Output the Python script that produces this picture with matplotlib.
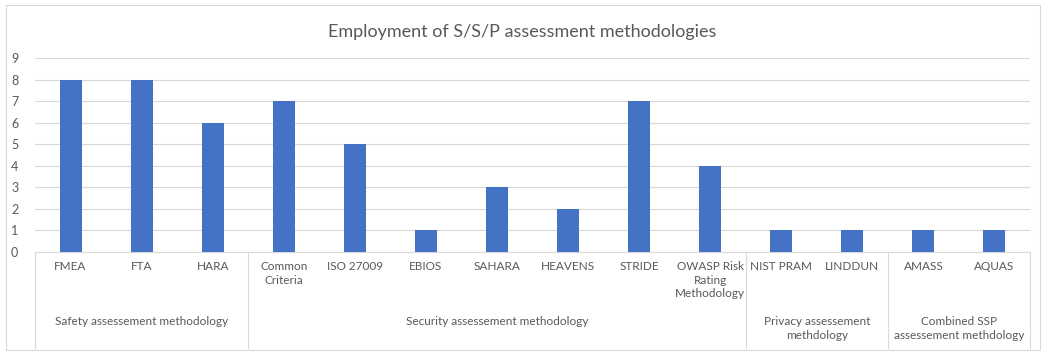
import matplotlib
matplotlib.use("Agg")
import matplotlib.pyplot as plt
from matplotlib import transforms
from matplotlib.patches import Rectangle

plt.rcParams['font.family'] = ['Lato', 'DejaVu Sans']

methods = ["FMEA", "FTA", "HARA", "Common\nCriteria", "ISO 27009", "EBIOS", "SAHARA",
           "HEAVENS", "STRIDE", "OWASP Risk\nRating\nMethodology", "NIST PRAM", "LINDDUN",
           "AMASS", "AQUAS"]
counts = [8, 8, 6, 7, 5, 1, 3, 2, 7, 4, 1, 1, 1, 1]
groups = ["Safety assessement methodology", "Security assessement methodology",
          "Privacy assessement\nmethdology", "Combined SSP\nassessement methdology"]
group_sizes = [3, 7, 2, 2]

txt = "#595959"
fig = plt.figure(figsize=(10.44, 3.54), dpi=100)
fig.patches.append(Rectangle((0.006, 0.012), 0.99, 0.975, transform=fig.transFigure,
                             fill=False, edgecolor="#D9D9D9", linewidth=0.8))
ax = fig.add_axes([35 / 1044, 102 / 354, 995 / 1044, 194 / 354])

x = list(range(len(methods)))
ax.bar(x, counts, width=0.31, color="#4472C4", zorder=3)
ax.set_xlim(-0.5, len(methods) - 0.5)
ax.set_ylim(0, 9)
ax.set_yticks(range(10))
ax.tick_params(axis="y", length=0, labelsize=9, labelcolor=txt, pad=12)
ax.set_xticks([])
ax.grid(axis="y", color="#D9D9D9", linewidth=0.8, zorder=0)
for s in ["top", "right", "left"]:
    ax.spines[s].set_visible(False)
ax.spines["bottom"].set_color("#D9D9D9")

fig.text(0.5, (354 - 32) / 354, "Employment of S/S/P assessment methodologies",
         ha="center", va="center", fontsize=13, color=txt)

tr = transforms.blended_transform_factory(ax.transData, fig.transFigure)
for i, m in enumerate(methods):
    ax.text(i, (354 - 261) / 354, m, transform=tr, ha="center", va="top",
            fontsize=8.5, color=txt, linespacing=1.3)

edges = [-0.5]
for n in group_sizes:
    edges.append(edges[-1] + n)
for e in edges:
    ax.plot([e, e], [(354 - 252) / 354, (354 - 348) / 354], transform=tr,
            color="#D9D9D9", linewidth=0.8, clip_on=False)
for g, a, b in zip(groups, edges[:-1], edges[1:]):
    ax.text((a + b) / 2, (354 - 316) / 354, g, transform=tr, ha="center", va="top",
            fontsize=8.5, color=txt, linespacing=1.3)

fig.savefig("out.png", dpi=100)
